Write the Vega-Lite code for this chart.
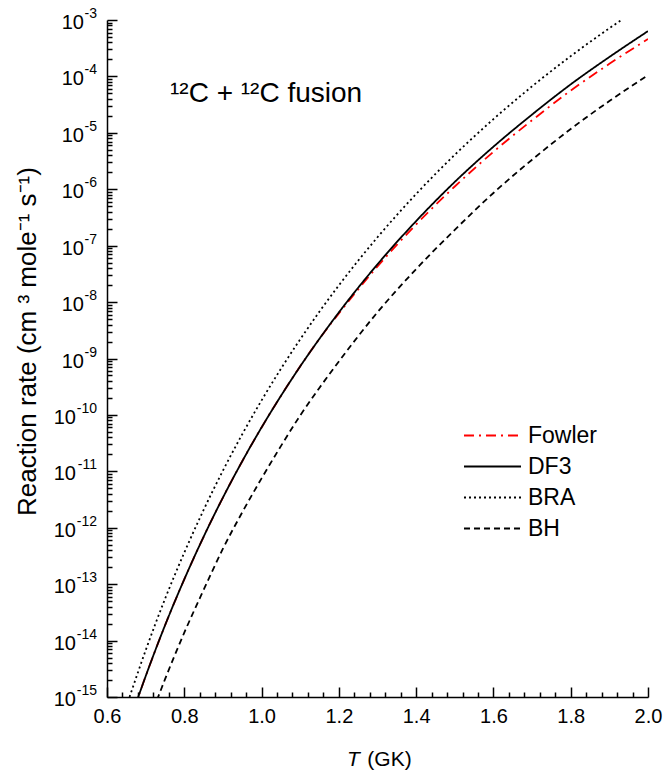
{
  "$schema": "https://vega.github.io/schema/vega-lite/v6.json",
  "width": 541,
  "height": 677,
  "autosize": {"type": "none"},
  "padding": {"left": 107, "top": 20, "right": 16, "bottom": 75},
  "background": "white",
  "config": {
    "view": {"stroke": null},
    "font": "Liberation Sans",
    "text": {"font": "Liberation Sans", "color": "black"}
  },
  "title": {
    "text": "T",
    "orient": "bottom",
    "anchor": "start",
    "frame": "group",
    "dx": 240,
    "offset": -20,
    "baseline": "top",
    "font": "Liberation Sans",
    "fontSize": 21,
    "fontStyle": "italic",
    "fontWeight": "normal",
    "color": "black"
  },
  "resolve": {"axis": {"x": "independent", "y": "independent"}},
  "datasets": {
    "rates": [
      {"model": "Fowler", "T": 0.67, "rate": 6.2e-16},
      {"model": "Fowler", "T": 0.68, "rate": 9.66e-16},
      {"model": "Fowler", "T": 0.70, "rate": 2.33e-15},
      {"model": "Fowler", "T": 0.75, "rate": 1.85e-14},
      {"model": "Fowler", "T": 0.80, "rate": 1.22e-13},
      {"model": "Fowler", "T": 0.85, "rate": 6.92e-13},
      {"model": "Fowler", "T": 0.90, "rate": 3.43e-12},
      {"model": "Fowler", "T": 0.95, "rate": 1.51e-11},
      {"model": "Fowler", "T": 1.00, "rate": 6.00e-11},
      {"model": "Fowler", "T": 1.05, "rate": 2.17e-10},
      {"model": "Fowler", "T": 1.10, "rate": 7.26e-10},
      {"model": "Fowler", "T": 1.15, "rate": 2.25e-9},
      {"model": "Fowler", "T": 1.20, "rate": 6.27e-9},
      {"model": "Fowler", "T": 1.30, "rate": 4.27e-8},
      {"model": "Fowler", "T": 1.40, "rate": 2.38e-7},
      {"model": "Fowler", "T": 1.50, "rate": 1.12e-6},
      {"model": "Fowler", "T": 1.60, "rate": 4.61e-6},
      {"model": "Fowler", "T": 1.70, "rate": 1.67e-5},
      {"model": "Fowler", "T": 1.80, "rate": 5.61e-5},
      {"model": "Fowler", "T": 1.90, "rate": 1.67e-4},
      {"model": "Fowler", "T": 2.00, "rate": 4.60e-4},
      {"model": "DF3", "T": 0.67, "rate": 6.2e-16},
      {"model": "DF3", "T": 0.68, "rate": 9.66e-16},
      {"model": "DF3", "T": 0.70, "rate": 2.33e-15},
      {"model": "DF3", "T": 0.75, "rate": 1.85e-14},
      {"model": "DF3", "T": 0.80, "rate": 1.22e-13},
      {"model": "DF3", "T": 0.85, "rate": 6.92e-13},
      {"model": "DF3", "T": 0.90, "rate": 3.43e-12},
      {"model": "DF3", "T": 0.95, "rate": 1.51e-11},
      {"model": "DF3", "T": 1.00, "rate": 6.00e-11},
      {"model": "DF3", "T": 1.05, "rate": 2.17e-10},
      {"model": "DF3", "T": 1.10, "rate": 7.26e-10},
      {"model": "DF3", "T": 1.15, "rate": 2.25e-9},
      {"model": "DF3", "T": 1.20, "rate": 6.56e-9},
      {"model": "DF3", "T": 1.30, "rate": 4.68e-8},
      {"model": "DF3", "T": 1.40, "rate": 2.73e-7},
      {"model": "DF3", "T": 1.50, "rate": 1.35e-6},
      {"model": "DF3", "T": 1.60, "rate": 5.68e-6},
      {"model": "DF3", "T": 1.70, "rate": 2.11e-5},
      {"model": "DF3", "T": 1.80, "rate": 7.23e-5},
      {"model": "DF3", "T": 1.90, "rate": 2.21e-4},
      {"model": "DF3", "T": 2.00, "rate": 6.35e-4},
      {"model": "BRA", "T": 0.65, "rate": 6.8e-16},
      {"model": "BRA", "T": 0.66, "rate": 1.08e-15},
      {"model": "BRA", "T": 0.70, "rate": 6.7e-15},
      {"model": "BRA", "T": 0.75, "rate": 5.45e-14},
      {"model": "BRA", "T": 0.80, "rate": 3.62e-13},
      {"model": "BRA", "T": 0.85, "rate": 2.07e-12},
      {"model": "BRA", "T": 0.90, "rate": 1.03e-11},
      {"model": "BRA", "T": 0.95, "rate": 4.55e-11},
      {"model": "BRA", "T": 1.00, "rate": 1.81e-10},
      {"model": "BRA", "T": 1.05, "rate": 6.56e-10},
      {"model": "BRA", "T": 1.10, "rate": 2.19e-9},
      {"model": "BRA", "T": 1.15, "rate": 6.81e-9},
      {"model": "BRA", "T": 1.20, "rate": 1.98e-8},
      {"model": "BRA", "T": 1.30, "rate": 1.41e-7},
      {"model": "BRA", "T": 1.40, "rate": 8.24e-7},
      {"model": "BRA", "T": 1.50, "rate": 4.08e-6},
      {"model": "BRA", "T": 1.60, "rate": 1.75e-5},
      {"model": "BRA", "T": 1.70, "rate": 6.67e-5},
      {"model": "BRA", "T": 1.80, "rate": 2.29e-4},
      {"model": "BRA", "T": 1.90, "rate": 7.14e-4},
      {"model": "BRA", "T": 1.95, "rate": 1.22e-3},
      {"model": "BH", "T": 0.72, "rate": 6.0e-16},
      {"model": "BH", "T": 0.75, "rate": 2.05e-15},
      {"model": "BH", "T": 0.80, "rate": 1.38e-14},
      {"model": "BH", "T": 0.85, "rate": 7.9e-14},
      {"model": "BH", "T": 0.90, "rate": 4.25e-13},
      {"model": "BH", "T": 0.95, "rate": 1.88e-12},
      {"model": "BH", "T": 1.00, "rate": 7.5e-12},
      {"model": "BH", "T": 1.05, "rate": 2.80e-11},
      {"model": "BH", "T": 1.10, "rate": 9.79e-11},
      {"model": "BH", "T": 1.15, "rate": 3.04e-10},
      {"model": "BH", "T": 1.20, "rate": 8.85e-10},
      {"model": "BH", "T": 1.30, "rate": 6.61e-9},
      {"model": "BH", "T": 1.40, "rate": 3.85e-8},
      {"model": "BH", "T": 1.50, "rate": 1.91e-7},
      {"model": "BH", "T": 1.60, "rate": 8.59e-7},
      {"model": "BH", "T": 1.70, "rate": 3.34e-6},
      {"model": "BH", "T": 1.80, "rate": 1.17e-5},
      {"model": "BH", "T": 1.90, "rate": 3.66e-5},
      {"model": "BH", "T": 2.00, "rate": 1.05e-4}
    ],
    "decades": [
      {"v": 1e-3, "e": "-3"}, {"v": 1e-4, "e": "-4"}, {"v": 1e-5, "e": "-5"},
      {"v": 1e-6, "e": "-6"}, {"v": 1e-7, "e": "-7"}, {"v": 1e-8, "e": "-8"},
      {"v": 1e-9, "e": "-9"}, {"v": 1e-10, "e": "-10"}, {"v": 1e-11, "e": "-11"},
      {"v": 1e-12, "e": "-12"}, {"v": 1e-13, "e": "-13"}, {"v": 1e-14, "e": "-14"},
      {"v": 1e-15, "e": "-15"}
    ],
    "note": [
      {"T": 0.763, "rate": 3.5e-5, "label": "¹²C + ¹²C fusion"}
    ]
  },
  "layer": [
    {
      "data": {"name": "rates"},
      "mark": {"type": "line", "clip": true, "strokeWidth": 1.8, "interpolate": "monotone"},
      "encoding": {
        "x": {
          "field": "T",
          "type": "quantitative",
          "scale": {"domain": [0.6, 2.0], "nice": false, "zero": false},
          "axis": {
            "orient": "bottom",
            "zindex": 2,
            "values": [0.6, 0.8, 1.0, 1.2, 1.4, 1.6, 1.8, 2.0],
            "format": ".1f",
            "ticks": true,
            "tickSize": -10,
            "tickWidth": 1.5,
            "tickColor": "black",
            "tickOpacity": 1,
            "grid": false,
            "labelFlush": false,
            "labelPadding": 19,
            "labelFont": "Liberation Sans",
            "labelFontSize": 20,
            "labelColor": "black",
            "domainColor": "black",
            "domainWidth": 1.5,
            "title": "(GK)",
            "titleFont": "Liberation Sans",
            "titleFontSize": 21,
            "titleFontWeight": "normal",
            "titleColor": "black",
            "titleX": 282,
            "titleY": 68,
            "titleAlign": "center",
            "titleBaseline": "alphabetic"
          }
        },
        "y": {
          "field": "rate",
          "type": "quantitative",
          "scale": {"type": "log", "domain": [1e-15, 1e-3], "nice": false},
          "axis": {
            "orient": "left",
            "zindex": 2,
            "values": [1e-15, 1e-14, 1e-13, 1e-12, 1e-11, 1e-10, 1e-9, 1e-8, 1e-7, 1e-6, 1e-5, 1e-4, 1e-3],
            "ticks": true,
            "tickSize": -10,
            "tickWidth": 1.5,
            "tickColor": "black",
            "tickOpacity": 1,
            "labels": false,
            "grid": false,
            "domainColor": "black",
            "domainWidth": 1.5,
            "title": "Reaction rate (cm ³ mole⁻¹ s⁻¹)",
            "titleFont": "Liberation Sans",
            "titleFontSize": 26,
            "titleFontWeight": "normal",
            "titleColor": "black",
            "titleAngle": -90,
            "titleX": -72,
            "titleY": 321,
            "titleAlign": "center",
            "titleBaseline": "alphabetic"
          }
        },
        "color": {
          "field": "model",
          "type": "nominal",
          "scale": {"domain": ["Fowler", "DF3", "BRA", "BH"], "range": ["#ff0000", "#000000", "#000000", "#000000"]},
          "legend": {
            "title": null,
            "orient": "none",
            "legendX": 374,
            "legendY": 404,
            "symbolType": "M-5,0H5",
            "symbolSize": 130,
            "symbolStrokeWidth": 2,
            "rowPadding": 7,
            "labelOffset": 24,
            "labelFont": "Liberation Sans",
            "labelFontSize": 23,
            "labelColor": "black"
          }
        },
        "strokeDash": {
          "field": "model",
          "type": "nominal",
          "scale": {"domain": ["Fowler", "DF3", "BRA", "BH"], "range": [[10, 5, 2, 5], [1, 0], [2, 3], [6, 4]]},
          "legend": {
            "title": null,
            "orient": "none",
            "legendX": 374,
            "legendY": 404,
            "symbolType": "M-5,0H5",
            "symbolSize": 130,
            "symbolStrokeWidth": 2,
            "rowPadding": 7,
            "labelOffset": 24,
            "labelFont": "Liberation Sans",
            "labelFontSize": 23,
            "labelColor": "black"
          }
        }
      }
    },
    {
      "data": {"name": "decades"},
      "transform": [{"filter": "length(datum.e) == 2"}],
      "mark": {"type": "text", "text": "10", "align": "right", "baseline": "alphabetic", "dx": -23, "dy": 9, "fontSize": 20, "font": "Liberation Sans", "color": "black"},
      "encoding": {
        "x": {"datum": 0.6, "type": "quantitative", "scale": {"domain": [0.6, 2.0], "nice": false, "zero": false}, "axis": null},
        "y": {"field": "v", "type": "quantitative", "scale": {"type": "log", "domain": [1e-15, 1e-3], "nice": false}, "axis": null}
      }
    },
    {
      "data": {"name": "decades"},
      "transform": [{"filter": "length(datum.e) == 3"}],
      "mark": {"type": "text", "text": "10", "align": "right", "baseline": "alphabetic", "dx": -31, "dy": 9, "fontSize": 20, "font": "Liberation Sans", "color": "black"},
      "encoding": {
        "x": {"datum": 0.6, "type": "quantitative", "scale": {"domain": [0.6, 2.0], "nice": false, "zero": false}, "axis": null},
        "y": {"field": "v", "type": "quantitative", "scale": {"type": "log", "domain": [1e-15, 1e-3], "nice": false}, "axis": null}
      }
    },
    {
      "data": {"name": "decades"},
      "mark": {"type": "text", "align": "right", "baseline": "alphabetic", "dx": -10, "dy": -2, "fontSize": 14, "font": "Liberation Sans", "color": "black"},
      "encoding": {
        "x": {"datum": 0.6, "type": "quantitative", "scale": {"domain": [0.6, 2.0], "nice": false, "zero": false}, "axis": null},
        "y": {
          "field": "v",
          "type": "quantitative",
          "scale": {"type": "log", "domain": [1e-15, 1e-3], "nice": false},
          "axis": {
            "orient": "left",
            "zindex": 2,
            "values": [
              2e-15, 3e-15, 4e-15, 5e-15, 6e-15, 7e-15, 8e-15, 9e-15,
              2e-14, 3e-14, 4e-14, 5e-14, 6e-14, 7e-14, 8e-14, 9e-14,
              2e-13, 3e-13, 4e-13, 5e-13, 6e-13, 7e-13, 8e-13, 9e-13,
              2e-12, 3e-12, 4e-12, 5e-12, 6e-12, 7e-12, 8e-12, 9e-12,
              2e-11, 3e-11, 4e-11, 5e-11, 6e-11, 7e-11, 8e-11, 9e-11,
              2e-10, 3e-10, 4e-10, 5e-10, 6e-10, 7e-10, 8e-10, 9e-10,
              2e-9, 3e-9, 4e-9, 5e-9, 6e-9, 7e-9, 8e-9, 9e-9,
              2e-8, 3e-8, 4e-8, 5e-8, 6e-8, 7e-8, 8e-8, 9e-8,
              2e-7, 3e-7, 4e-7, 5e-7, 6e-7, 7e-7, 8e-7, 9e-7,
              2e-6, 3e-6, 4e-6, 5e-6, 6e-6, 7e-6, 8e-6, 9e-6,
              2e-5, 3e-5, 4e-5, 5e-5, 6e-5, 7e-5, 8e-5, 9e-5,
              2e-4, 3e-4, 4e-4, 5e-4, 6e-4, 7e-4, 8e-4, 9e-4
            ],
            "ticks": true,
            "tickSize": -5,
            "tickWidth": 1.5,
            "tickColor": "black",
            "tickOpacity": 1,
            "labels": false,
            "domain": false,
            "grid": false,
            "title": null
          }
        },
        "text": {"field": "e", "type": "nominal"}
      }
    },
    {
      "data": {"name": "note"},
      "mark": {"type": "text", "align": "left", "baseline": "alphabetic", "fontSize": 28, "font": "Liberation Sans", "color": "black"},
      "encoding": {
        "x": {
          "field": "T",
          "type": "quantitative",
          "scale": {"domain": [0.6, 2.0], "nice": false, "zero": false},
          "axis": {
            "orient": "bottom",
            "zindex": 2,
            "values": [
              0.64, 0.68, 0.72, 0.76, 0.84, 0.88, 0.92, 0.96,
              1.04, 1.08, 1.12, 1.16, 1.24, 1.28, 1.32, 1.36,
              1.44, 1.48, 1.52, 1.56, 1.64, 1.68, 1.72, 1.76,
              1.84, 1.88, 1.92, 1.96
            ],
            "ticks": true,
            "tickSize": -5,
            "tickWidth": 1.5,
            "tickColor": "black",
            "tickOpacity": 1,
            "labels": false,
            "domain": false,
            "grid": false,
            "title": null
          }
        },
        "y": {"field": "rate", "type": "quantitative", "scale": {"type": "log", "domain": [1e-15, 1e-3], "nice": false}, "axis": null},
        "text": {"field": "label", "type": "nominal"}
      }
    }
  ]
}
